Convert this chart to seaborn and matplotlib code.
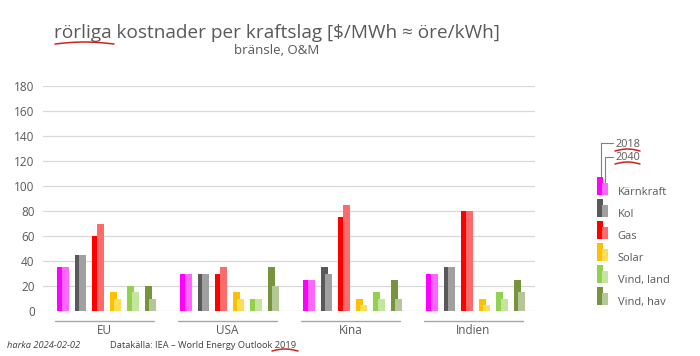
import numpy as np
import pandas as pd
import seaborn as sns
import matplotlib.pyplot as plt
import matplotlib.transforms as mtransforms
from matplotlib.patches import Rectangle
from matplotlib.legend_handler import HandlerBase
from matplotlib.lines import Line2D

# %% data
regions = ["EU", "USA", "Kina", "Indien"]
techs = ["Kärnkraft", "Kol", "Gas", "Solar", "Vind, land", "Vind, hav"]
years = ["2018", "2040"]

cost_eu = [35, 45, 60, 15, 20, 20]
cost_eu_2040 = [35, 45, 70, 10, 15, 10]
cost_usa = [30, 30, 30, 15, 10, 35]
cost_usa_2040 = [30, 30, 35, 10, 10, 20]
cost_kina = [25, 35, 75, 10, 15, 25]
cost_kina_2040 = [25, 30, 85, 5, 10, 10]
cost_indien = [30, 35, 80, 10, 15, 25]
cost_indien_2040 = [30, 35, 80, 5, 10, 15]

yticks = list(range(0, 181, 20))

dark = ["#FF00FF", "#595959", "#FF0000", "#FFC000", "#92D050", "#77933C"]
light = ["#FF66FF", "#A0A0A0", "#FF6B6B", "#FFDD55", "#C4E59C", "#B3C797"]
grey_txt = "#595959"

rows = []
for reg, c18, c40 in zip(regions,
                         [cost_eu, cost_usa, cost_kina, cost_indien],
                         [cost_eu_2040, cost_usa_2040, cost_kina_2040, cost_indien_2040]):
    for t, a, b in zip(techs, c18, c40):
        rows.append([reg, t, "2018", a])
        rows.append([reg, t, "2040", b])
df = pd.DataFrame(rows, columns=["region", "tech", "year", "kost"])

# %% figure
sns.set_theme(style="white")
plt.rcParams['font.family'] = ['Open Sans', 'DejaVu Sans']

W, H = 700, 356
fig = plt.figure(figsize=(W / 100, H / 100), dpi=100)
ax = fig.add_axes([43 / W, 1 - 311 / H, (535 - 43) / W, (311 - 86) / H])

def fx(px):
    return np.asarray(px) / W

def fy(py):
    return 1 - np.asarray(py) / H

n_before = 0
for yr, pal in zip(years, [dark, light]):
    sns.barplot(data=df[df["year"] == yr], x="region", y="kost", hue="tech",
                order=regions, hue_order=techs, palette=pal, saturation=1,
                width=0.855, gap=0.58, errorbar=None, legend=False,
                linewidth=0, edgecolor="none", ax=ax)
    if yr == "2040":
        # 2040 bar sits half a bar to the right, in front of the 2018 bar
        shift = mtransforms.ScaledTranslation(4.5 / 100, 0, fig.dpi_scale_trans)
        for p in ax.patches[n_before:]:
            p.set_transform(ax.transData + shift)
    n_before = len(ax.patches)

ax.set_xlim(-0.5, len(regions) - 0.5)
ax.set_ylim(0, 180)
ax.set_yticks(yticks)
ax.set_xlabel("")
ax.set_ylabel("")
ax.set_axisbelow(True)
ax.yaxis.grid(True, color="#D9D9D9", lw=0.9)
for s in ax.spines.values():
    s.set_visible(False)
ax.tick_params(axis="y", length=0, pad=6, labelsize=8.5, labelcolor=grey_txt)
ax.tick_params(axis="x", length=0, pad=9.5, labelsize=8.5, labelcolor=grey_txt)

# group brackets under each region
blend = mtransforms.blended_transform_factory(ax.transData, ax.transAxes)
for i in range(len(regions)):
    ax.plot([i - 0.4, i + 0.4], [-0.045, -0.045], transform=blend,
            color="#A6A6A6", lw=1, clip_on=False)

# %% legend with paired swatches
class PairHandler(HandlerBase):
    def __init__(self, lightcol):
        super().__init__()
        self.lightcol = lightcol

    def create_artists(self, legend, orig_handle, xdescent, ydescent,
                       width, height, fontsize, trans):
        x0 = -xdescent
        hh = 1.62 * fontsize
        r1 = Rectangle((x0, 0), width * 0.55, hh,
                       fc=orig_handle.get_facecolor(), ec="none", transform=trans)
        r2 = Rectangle((x0 + width * 0.49, 0), width * 0.51, hh * 0.68,
                       fc=self.lightcol, ec="none", transform=trans)
        return [r1, r2]

handles = [Rectangle((0, 0), 1, 1, fc=d) for d in dark]
hmap = {h: PairHandler(l) for h, l in zip(handles, light)}
leg = fig.legend(handles, techs, handler_map=hmap, loc="upper left",
                 bbox_to_anchor=(fx(597), fy(181.1)), frameon=False,
                 borderpad=0, borderaxespad=0, fontsize=8,
                 handlelength=1.0, handleheight=2.55, labelspacing=0.08,
                 handletextpad=0.87)
for t in leg.get_texts():
    t.set_color(grey_txt)

# leader lines for year labels
fig.add_artist(Line2D(fx([600.5, 600.5, 613]), fy([176, 143.5, 143.5]),
                      color="#7F7F7F", lw=0.8))
fig.add_artist(Line2D(fx([605, 605, 613]), fy([182, 156.5, 156.5]),
                      color="#7F7F7F", lw=0.8))
fig.text(fx(615), fy(145), "2018", fontsize=7.8, color=grey_txt, va="center")
fig.text(fx(615), fy(158), "2040", fontsize=7.8, color=grey_txt, va="center")

# spell-check squiggles
def squiggle(x0, x1, y):
    xs = np.linspace(x0, x1, 20)
    ys = y - 2.0 * np.sin(np.linspace(0, np.pi, 20))
    fig.add_artist(Line2D(fx(xs), fy(ys), color="#D02020", lw=1.1))

squiggle(55, 114, 44)
squiggle(615, 640, 151)
squiggle(615, 640, 164)
squiggle(272, 298, 351)

# %% titles and footer
fig.text(fx(277), fy(33), "rörliga kostnader per kraftslag [$/MWh ≈ öre/kWh]",
         ha="center", va="center", fontsize=13.7, color=grey_txt)
fig.text(fx(277), fy(50), "bränsle, O&M", ha="center", va="center",
         fontsize=9.5, color=grey_txt)
fig.text(fx(7), fy(345), "harka 2024-02-02", ha="left", va="center",
         fontsize=6.7, style="italic", color="#404040")
fig.text(fx(110), fy(345), "Datakälla: IEA – World Energy Outlook 2019",
         ha="left", va="center", fontsize=6.7, color="#404040")

fig.savefig("out.png", dpi=100)
